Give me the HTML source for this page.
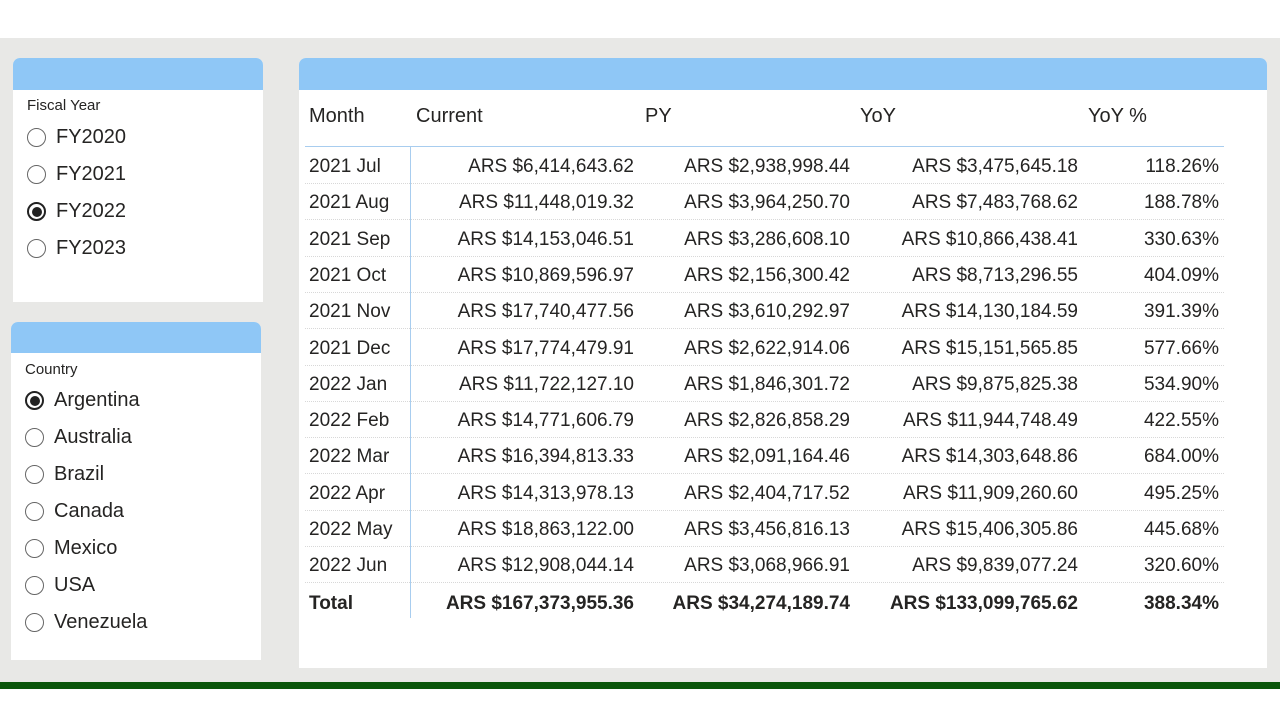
<!DOCTYPE html>
<html><head><meta charset="utf-8"><style>
body{margin:0;width:1280px;height:720px;background:#fff;position:relative;overflow:hidden;font-family:"Liberation Sans",sans-serif;color:#252423}
.bg{position:absolute;left:0;top:38px;width:1280px;height:644px;background:#e8e8e6}
.green{position:absolute;left:0;top:682px;width:1280px;height:7px;background:#0b560b}
.card{position:absolute;background:#fff;border-radius:7px 7px 0 0;overflow:hidden}
.hdr{position:absolute;left:0;top:0;right:0;height:32px;background:#8fc7f6}
.slt{position:absolute;font-size:15px}
.opt{position:absolute;font-size:20px;display:flex;align-items:center}
.rad{width:19px;height:19px;border:1.5px solid #666;border-radius:50%;margin-right:10px;box-sizing:border-box;position:relative}
.rad.on{border:2px solid #222}
.rad.on::after{content:"";position:absolute;left:2.5px;top:2.5px;width:10px;height:10px;border-radius:50%;background:#222}
.cell{position:absolute;font-size:19px;white-space:nowrap;line-height:22px}
.r{text-align:right}
.sep{position:absolute;left:305px;width:919px;height:0;border-top:1px dotted #d8d8d8}
</style></head><body>
<div class="bg"></div>
<div class="green"></div>

<div class="card" style="left:13px;top:58px;width:250px;height:244px">
<div class="hdr"></div>
<div class="slt" style="left:14px;top:39px">Fiscal Year</div>
<div class="opt" style="left:14px;top:68px"><span class="rad"></span>FY2020</div>
<div class="opt" style="left:14px;top:105px"><span class="rad"></span>FY2021</div>
<div class="opt" style="left:14px;top:142px"><span class="rad on"></span>FY2022</div>
<div class="opt" style="left:14px;top:179px"><span class="rad"></span>FY2023</div>
</div>

<div class="card" style="left:11px;top:322px;width:250px;height:338px">
<div class="hdr" style="height:31px"></div>
<div class="slt" style="left:14px;top:39px">Country</div>
<div class="opt" style="left:14px;top:67px"><span class="rad on"></span>Argentina</div>
<div class="opt" style="left:14px;top:104px"><span class="rad"></span>Australia</div>
<div class="opt" style="left:14px;top:141px"><span class="rad"></span>Brazil</div>
<div class="opt" style="left:14px;top:178px"><span class="rad"></span>Canada</div>
<div class="opt" style="left:14px;top:215px"><span class="rad"></span>Mexico</div>
<div class="opt" style="left:14px;top:252px"><span class="rad"></span>USA</div>
<div class="opt" style="left:14px;top:289px"><span class="rad"></span>Venezuela</div>
</div>

<div class="card" style="left:299px;top:58px;width:968px;height:610px">
<div class="hdr"></div>
</div>
<div id="tbl"></div>
<script>
const months=["2021 Jul","2021 Aug","2021 Sep","2021 Oct","2021 Nov","2021 Dec","2022 Jan","2022 Feb","2022 Mar","2022 Apr","2022 May","2022 Jun"];
const current=["ARS $6,414,643.62","ARS $11,448,019.32","ARS $14,153,046.51","ARS $10,869,596.97","ARS $17,740,477.56","ARS $17,774,479.91","ARS $11,722,127.10","ARS $14,771,606.79","ARS $16,394,813.33","ARS $14,313,978.13","ARS $18,863,122.00","ARS $12,908,044.14"];
const py=["ARS $2,938,998.44","ARS $3,964,250.70","ARS $3,286,608.10","ARS $2,156,300.42","ARS $3,610,292.97","ARS $2,622,914.06","ARS $1,846,301.72","ARS $2,826,858.29","ARS $2,091,164.46","ARS $2,404,717.52","ARS $3,456,816.13","ARS $3,068,966.91"];
const yoy=["ARS $3,475,645.18","ARS $7,483,768.62","ARS $10,866,438.41","ARS $8,713,296.55","ARS $14,130,184.59","ARS $15,151,565.85","ARS $9,875,825.38","ARS $11,944,748.49","ARS $14,303,648.86","ARS $11,909,260.60","ARS $15,406,305.86","ARS $9,839,077.24"];
const yoyPct=["118.26%","188.78%","330.63%","404.09%","391.39%","577.66%","534.90%","422.55%","684.00%","495.25%","445.68%","320.60%"];
const totals=["Total","ARS $167,373,955.36","ARS $34,274,189.74","ARS $133,099,765.62","388.34%"];
const headers=["Month","Current","PY","YoY","YoY %"];
const tbl=document.getElementById('tbl');
const hx=[309,416,645,860,1088];
const rx=[null,634,850,1078,1219];
function cell(txt,x,y,right,bold){
 const d=document.createElement('div');
 d.className='cell'+(right?' r':'');
 d.textContent=txt;
 if(right){d.style.left=(x-300)+'px';d.style.width='300px';}else d.style.left=x+'px';
 d.style.top=(y-9)+'px';
 if(bold)d.style.fontWeight='bold';
 tbl.appendChild(d);return d;
}
headers.forEach((h,i)=>{const d=cell(h,hx[i],114,false,false);
d.style.fontSize='20px';

});
const hl=document.createElement('div');hl.style.cssText='position:absolute;left:305px;top:146px;width:919px;border-top:1px solid #a8cdef';


tbl.appendChild(hl);
const vl=document.createElement('div');vl.style.cssText='position:absolute;left:410px;top:146px;height:472px;border-left:1px solid #a8cdef';


tbl.appendChild(vl);
const step=36.3;
months.forEach((m,i)=>{
 const y=165+i*step;
 const vals=[current[i],py[i],yoy[i],yoyPct[i]];
 let d=cell(m,309,y,false,false);
 
 
 vals.forEach((v,j)=>{const c=cell(v,rx[j+1],y,true,false);
 
 });
 const s=document.createElement('div');s.className='sep';s.style.top=Math.round(y+18)+'px';
 
 
 tbl.appendChild(s);
});
totals.forEach((t,i)=>{const c=i==0?cell(t,309,602,false,true):cell(t,rx[i],602,true,true);

});
</script>
</body></html>
